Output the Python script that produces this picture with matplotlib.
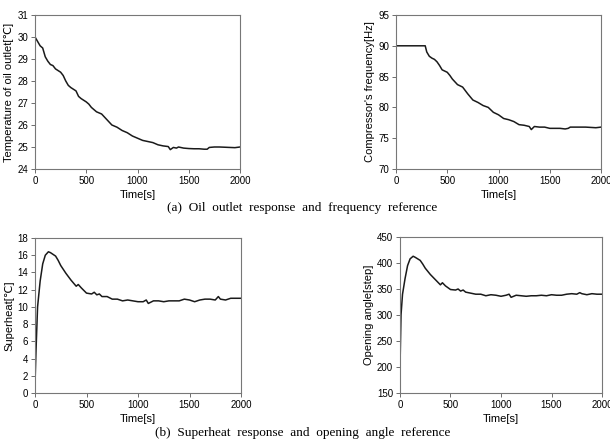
import matplotlib
matplotlib.use("Agg")
from matplotlib import pyplot

# (a) oil outlet temperature
t_oil = [0, 25, 50, 75, 100, 125, 150, 175, 200, 250, 275, 300, 325, 350, 400, 425, 450, 500,
         525, 550, 600, 625, 650, 700, 750, 800, 850, 900, 950, 1000, 1050, 1100, 1150, 1200,
         1250, 1300, 1320, 1350, 1380, 1400, 1450, 1500, 1550, 1600, 1650, 1680, 1700, 1750,
         1800, 1850, 1900, 1950, 2000]
oil = [30.0, 29.8, 29.6, 29.5, 29.1, 28.9, 28.75, 28.7, 28.55, 28.4, 28.25, 28.0, 27.8, 27.7,
       27.55, 27.3, 27.2, 27.05, 26.95, 26.8, 26.6, 26.55, 26.5, 26.25, 26.0, 25.9, 25.75, 25.65,
       25.5, 25.4, 25.3, 25.25, 25.2, 25.1, 25.05, 25.02, 24.88, 24.98, 24.95, 25.0, 24.95,
       24.93, 24.92, 24.92, 24.9, 24.9, 24.98, 25.0, 25.0, 24.99, 24.98, 24.97, 25.0]

# (a) compressor frequency
t_freq = [0, 285, 300, 325, 350, 375, 400, 425, 450, 500, 525, 550, 600, 625, 650, 700, 750,
          800, 850, 900, 950, 1000, 1050, 1100, 1150, 1200, 1250, 1300, 1320, 1350, 1400,
          1450, 1500, 1550, 1600, 1650, 1680, 1700, 1750, 1800, 1850, 1900, 1950, 2000]
freq = [90, 90, 89.0, 88.3, 88.0, 87.8, 87.4, 86.8, 86.1, 85.7, 85.2, 84.6, 83.7, 83.5, 83.3,
        82.2, 81.2, 80.8, 80.3, 80.0, 79.2, 78.8, 78.2, 78.0, 77.7, 77.2, 77.1, 76.9, 76.4,
        76.9, 76.8, 76.8, 76.6, 76.6, 76.6, 76.5, 76.6, 76.8, 76.8, 76.8, 76.8, 76.75, 76.7,
        76.8]

# (b) superheat and opening angle share time points
t_sh = [0, 10, 25, 50, 75, 100, 130, 150, 200, 225, 250, 300, 350, 400, 420, 450, 500, 550,
        575, 600, 625, 650, 700, 750, 800, 850, 900, 950, 1000, 1050, 1080, 1100, 1150, 1200,
        1250, 1300, 1350, 1400, 1450, 1500, 1550, 1600, 1650, 1700, 1750, 1780, 1800, 1850,
        1900, 1950, 2000]
superheat = [1.0, 5.0, 10.0, 13.0, 15.0, 16.0, 16.4, 16.3, 15.9, 15.4, 14.8, 13.9, 13.1, 12.4,
             12.6, 12.2, 11.6, 11.5, 11.7, 11.4, 11.5, 11.2, 11.2, 10.9, 10.9, 10.7, 10.8, 10.7,
             10.6, 10.6, 10.8, 10.4, 10.7, 10.7, 10.6, 10.7, 10.7, 10.7, 10.9, 10.8, 10.6, 10.8,
             10.9, 10.9, 10.8, 11.2, 10.9, 10.8, 11.0, 11.0, 11.0]
opening = [200, 300, 340, 370, 395, 408, 413, 411, 405, 398, 390, 378, 368, 358, 362, 356, 349,
           348, 350, 346, 348, 344, 342, 340, 340, 337, 339, 338, 336, 338, 340, 334, 338, 337,
           336, 337, 337, 338, 337, 339, 338, 338, 340, 341, 340, 343, 341, 339, 341, 340, 340]

pyplot.rcParams['font.family'] = ['Liberation Sans', 'DejaVu Sans']

fig = pyplot.figure(figsize=(6.1, 4.43), dpi=100)
W, H = 610.0, 443.0

def panel(box, x, y, ylim, yticks, ylabel):
    l, t, r, b = box
    ax = fig.add_axes([l / W, 1 - b / H, (r - l) / W, (b - t) / H])
    ax.plot(x, y, color='#1a1a1a', lw=1.1)
    ax.set_xlim(0, 2000)
    ax.set_ylim(*ylim)
    ax.set_xticks([0, 500, 1000, 1500, 2000])
    ax.set_yticks(yticks)
    ax.tick_params(labelsize=7, length=3, width=0.6, color='#555555', pad=2)
    for s in ax.spines.values():
        s.set_color('#777777')
        s.set_linewidth(0.8)
    ax.set_xlabel('Time[s]', fontsize=8, labelpad=3)
    ax.set_ylabel(ylabel, fontsize=8, labelpad=2)
    return ax

panel((35, 15, 240, 169), t_oil, oil, (24, 31), range(24, 32), 'Temperature of oil outlet[℃]')
panel((396, 15, 601, 169), t_freq, freq, (70, 95), range(70, 96, 5), "Compressor's frequency[Hz]")
panel((35, 238, 241, 393), t_sh, superheat, (0, 18), range(0, 19, 2), 'Superheat[℃]')
panel((400, 237, 602, 393), t_sh, opening, (150, 450), range(150, 451, 50), 'Opening angle[step]')

fig.text(0.495, 1 - 208 / H, '(a)  Oil  outlet  response  and  frequency  reference',
         ha='center', va='center', fontsize=9.5, family='Liberation Serif')
fig.text(0.497, 1 - 433 / H, '(b)  Superheat  response  and  opening  angle  reference',
         ha='center', va='center', fontsize=9.5, family='Liberation Serif')

pyplot.savefig('out.png', dpi=100)
